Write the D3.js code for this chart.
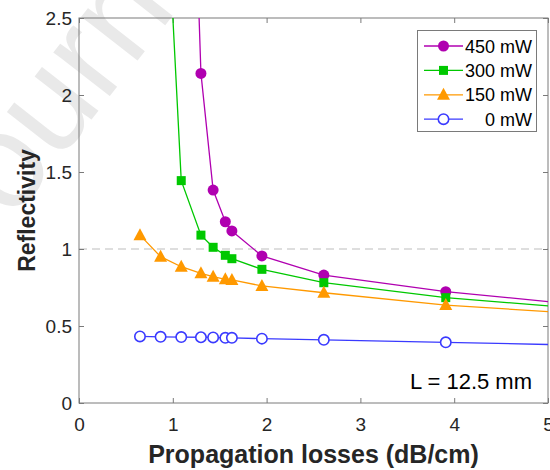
<!DOCTYPE html>
<html>
<head>
<meta charset="utf-8">
<script src="https://cdn.jsdelivr.net/npm/d3@7"></script>
<style>
  body { margin: 0; background: #fff; }
  text { font-family: "Liberation Sans", Arial, sans-serif; }
</style>
</head>
<body>
<div id="paper"></div>
<script>
// propagation losses (dB/cm), last one is outside the axes and only gives the line to the edge
const losses = [0.65, 0.87, 1.09, 1.30, 1.43, 1.56, 1.63, 1.95, 2.61, 3.91, 5.21];

const r450 = [null, null, 6.0, 2.14, 1.383, 1.177, 1.117, 0.955, 0.831, 0.723, 0.646];
const r300 = [null, 4.05, 1.444, 1.09, 1.011, 0.959, 0.937, 0.868, 0.781, 0.684, 0.62];
const r150 = [1.09, 0.95, 0.885, 0.842, 0.82, 0.803, 0.799, 0.76, 0.716, 0.636, 0.585];
const r0   = [0.432, 0.43, 0.428, 0.427, 0.426, 0.423, 0.423, 0.418, 0.41, 0.394, 0.377];

const seriesNames = ["450 mW", "300 mW", "150 mW", "0 mW"];
const seriesValues = [r450, r300, r150, r0];
const seriesColors = ["#b000b0", "#00c800", "#ff9900", "#3a3aff"];
const seriesSymbols = ["circle", "square", "triangle", "ring"];

const xTicks = [0, 1, 2, 3, 4, 5];
const yTicks = [0, 0.5, 1, 1.5, 2, 2.5];

const W = 550, H = 470;
const x = d3.scaleLinear().domain([0, 5]).range([79, 548]);
const y = d3.scaleLinear().domain([0, 2.5]).range([403, 18]);

const svg = d3.select("#paper")
  .append("svg")
  .attr("id", "canvas")
  .attr("width", W)
  .attr("height", H);

// faint watermark
svg.append("text")
  .attr("transform", "translate(-30,275) rotate(-52)")
  .attr("font-size", "135px")
  .attr("fill", "#e9e9e9")
  .text("Journal Pre-proof");

svg.append("clipPath").attr("id", "clip")
  .append("rect")
  .attr("x", x(0)).attr("y", y(2.5))
  .attr("width", x(5) - x(0)).attr("height", y(0) - y(2.5));

// reference line at R = 1
svg.append("line")
  .attr("x1", x(0)).attr("x2", x(5))
  .attr("y1", y(1)).attr("y2", y(1))
  .attr("stroke", "#d4d4d4")
  .attr("stroke-width", 1.3)
  .attr("stroke-dasharray", "8,5");

// axes
const axColor = "#7a7a7a";
function styleAxis(g, labels) {
  g.select(".domain").remove();
  g.selectAll(".tick line").attr("stroke", axColor);
  g.selectAll(".tick text")
    .attr("fill", "#262626")
    .attr("font-size", labels ? "19px" : "0px")
    .attr("font-family", "Liberation Sans, Arial, sans-serif");
}

svg.append("g").attr("transform", `translate(0,${y(0)})`)
  .call(d3.axisBottom(x).tickValues(xTicks).tickSize(-5).tickPadding(15).tickFormat(d3.format("~g")))
  .call(g => styleAxis(g, true));
svg.append("g").attr("transform", `translate(0,${y(2.5)})`)
  .call(d3.axisTop(x).tickValues(xTicks).tickSize(-5).tickFormat(""))
  .call(g => styleAxis(g, false));
svg.append("g").attr("transform", `translate(${x(0)},0)`)
  .call(d3.axisLeft(y).tickValues(yTicks).tickSize(-5).tickPadding(7).tickFormat(d3.format("~g")))
  .call(g => styleAxis(g, true));
svg.append("g").attr("transform", `translate(${x(5)},0)`)
  .call(d3.axisRight(y).tickValues(yTicks).tickSize(-5).tickFormat(""))
  .call(g => styleAxis(g, false));

svg.append("rect")
  .attr("x", x(0)).attr("y", y(2.5))
  .attr("width", x(5) - x(0)).attr("height", y(0) - y(2.5))
  .attr("fill", "none")
  .attr("stroke", axColor)
  .attr("stroke-width", 1);

// markers
function drawMarker(g, sym, color, cx, cy) {
  if (sym === "circle") {
    g.append("circle").attr("cx", cx).attr("cy", cy).attr("r", 5.5).attr("fill", color);
  } else if (sym === "square") {
    g.append("rect").attr("x", cx - 4.5).attr("y", cy - 4.5).attr("width", 9).attr("height", 9).attr("fill", color);
  } else if (sym === "triangle") {
    g.append("path").attr("d", `M${cx},${cy - 7}L${cx + 6.5},${cy + 5}L${cx - 6.5},${cy + 5}Z`).attr("fill", color);
  } else {
    g.append("circle").attr("cx", cx).attr("cy", cy).attr("r", 5.2)
      .attr("fill", "#fff").attr("stroke", color).attr("stroke-width", 1.6);
  }
}

const line = d3.line()
  .defined(d => d[1] !== null)
  .x(d => x(d[0]))
  .y(d => y(d[1]));

const plot = svg.append("g").attr("clip-path", "url(#clip)");

seriesValues.forEach((vals, i) => {
  const pts = losses.map((l, j) => [l, vals[j]]);
  plot.append("path")
    .attr("d", line(pts))
    .attr("fill", "none")
    .attr("stroke", seriesColors[i])
    .attr("stroke-width", 1.3);
  const mg = plot.append("g");
  pts.filter(p => p[1] !== null).forEach(p => drawMarker(mg, seriesSymbols[i], seriesColors[i], x(p[0]), y(p[1])));
});

// legend
const lg = svg.append("g");
lg.append("rect")
  .attr("x", 417.5).attr("y", 30.5).attr("width", 119).attr("height", 101)
  .attr("fill", "#fff").attr("stroke", axColor).attr("stroke-width", 1);
seriesNames.forEach((name, i) => {
  const ly = 46 + i * 24.4;
  lg.append("line").attr("x1", 424).attr("x2", 463).attr("y1", ly).attr("y2", ly)
    .attr("stroke", seriesColors[i]).attr("stroke-width", 1.3);
  drawMarker(lg, seriesSymbols[i], seriesColors[i], 443.5, ly);
  lg.append("text")
    .attr("x", 532).attr("y", ly + 6.5)
    .attr("text-anchor", "end")
    .attr("font-size", "18px")
    .attr("fill", "#000")
    .text(name);
});

// annotation
svg.append("text")
  .attr("x", 532).attr("y", 389)
  .attr("text-anchor", "end")
  .attr("font-size", "22px")
  .attr("fill", "#000")
  .text("L = 12.5 mm");

// axis labels
svg.append("text")
  .attr("x", (x(0) + x(5)) / 2).attr("y", 463)
  .attr("text-anchor", "middle")
  .attr("font-size", "25px")
  .attr("font-weight", "bold")
  .attr("fill", "#262626")
  .text("Propagation losses (dB/cm)");

svg.append("text")
  .attr("transform", `translate(35,${(y(0) + y(2.5)) / 2}) rotate(-90)`)
  .attr("text-anchor", "middle")
  .attr("font-size", "23px")
  .attr("font-weight", "bold")
  .attr("fill", "#262626")
  .text("Reflectivity");
</script>
</body>
</html>
